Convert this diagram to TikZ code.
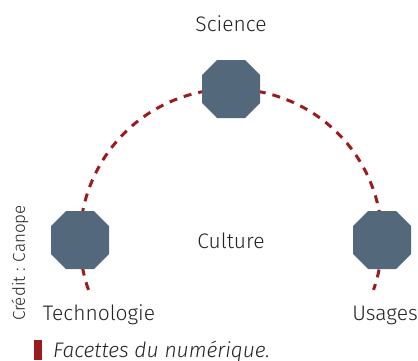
\documentclass[tikz,border=0pt]{standalone}
\usepackage{fontspec}
\setmainfont{Fira Sans Light}
\definecolor{oct}{RGB}{83,104,122}
\definecolor{arcred}{RGB}{155,28,31}
\definecolor{txt}{RGB}{34,34,34}
\begin{document}
\begin{tikzpicture}[x=1pt,y=1pt,
  octo/.style={minimum width=58pt, minimum height=58pt, inner sep=0pt, draw=none,
    path picture={\fill[oct] ([xshift=15pt]path picture bounding box.south west) -- ([xshift=-15pt]path picture bounding box.south east) -- ([yshift=15pt]path picture bounding box.south east) -- ([yshift=-15pt]path picture bounding box.north east) -- ([xshift=-15pt]path picture bounding box.north east) -- ([xshift=15pt]path picture bounding box.north west) -- ([yshift=-15pt]path picture bounding box.north west) -- ([yshift=15pt]path picture bounding box.south west) -- cycle;}},
  lbl/.style={text=txt, font=\fontsize{21}{24}\selectfont, inner sep=0pt},
  ring/.style={draw=arcred, line width=3pt, dash pattern=on 8pt off 7pt}]
\useasboundingbox (0,0) rectangle (418,360);
\coordinate (c) at (231,120);
\draw[ring] (c) ++(199.3:151) arc[start angle=199.3, end angle=-19.3, radius=151];
\node[octo] (sci) at (231,271) {};
\node[octo] (tech) at (80,120) {};
\node[octo] (use) at (382,120) {};
\node[lbl] (tsci) at (231,336) {Science};
\node[lbl] (tcul) at (231,119) {Culture};
\node[lbl] (ttech) at (99,45) {Technologie};
\node[lbl] (tuse) at (385,45) {Usages};
\node[text=txt, font=\fontsize{17}{20}\selectfont, rotate=90, inner sep=0pt] (cred) at (20,97) {Crédit : Canope};
\fill[arcred] (34,0) rectangle (42,20);
\node[text=txt, font=\fontsize{21}{24}\selectfont\itshape, anchor=west, inner sep=0pt] (cap) at (53,9) {Facettes du numérique.};
\end{tikzpicture}
\end{document}
